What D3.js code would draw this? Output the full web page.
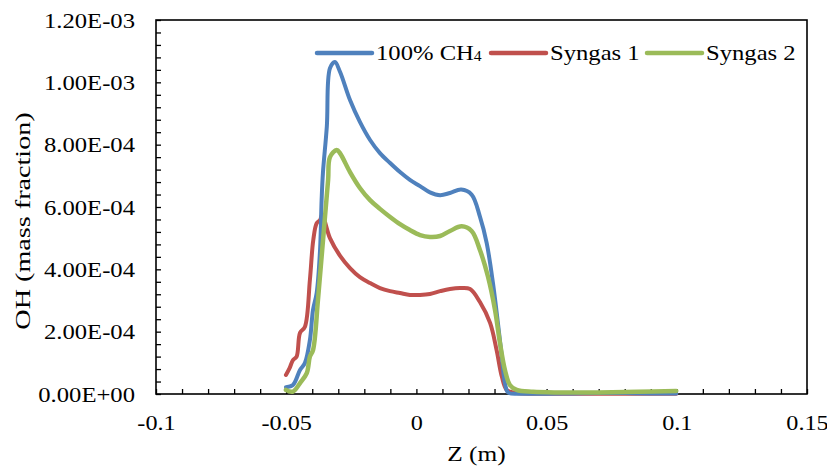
<!DOCTYPE html>
<html>
<head>
<meta charset="utf-8">
<script src="https://cdn.jsdelivr.net/npm/d3@7"></script>
<style>
  body { margin: 0; background: #fff; }
  text { font-family: "Liberation Serif", "Times New Roman", serif; fill: #000; }
</style>
</head>
<body>
<div id="content"></div>
<script>
// values (z in m, OH in 1e-4 mass fraction)
var ch4Z = [-0.0501, -0.0474, -0.0447, -0.0428, -0.0409, -0.0397, -0.0383, -0.0370, -0.0364, -0.0359, -0.0344, -0.0332, -0.0313, -0.0293, -0.0255, -0.0217, -0.0178, -0.0140, -0.0101, -0.0063, -0.0025, 0.0014, 0.0052, 0.0091, 0.0129, 0.0172, 0.0212, 0.0244, 0.0270, 0.0294, 0.0313, 0.0328, 0.0340, 0.0352, 0.0400, 0.0500, 0.0600, 0.0700, 0.0800, 0.0900, 0.0998];
var ch4OH = [0.22, 0.29, 0.77, 1.00, 1.73, 2.70, 3.24, 4.62, 6.22, 7.09, 8.58, 10.45, 10.65, 10.33, 9.43, 8.73, 8.15, 7.73, 7.41, 7.12, 6.87, 6.67, 6.47, 6.38, 6.45, 6.56, 6.40, 5.69, 4.84, 3.56, 2.28, 1.20, 0.35, 0.05, 0.01, 0.01, 0.02, 0.03, 0.03, 0.02, 0.02];

var syn1Z = [-0.0501, -0.0487, -0.0474, -0.0460, -0.0447, -0.0428, -0.0409, -0.0396, -0.0383, -0.0370, -0.0362, -0.0332, -0.0293, -0.0255, -0.0217, -0.0178, -0.0140, -0.0101, -0.0063, -0.0025, 0.0014, 0.0052, 0.0091, 0.0129, 0.0167, 0.0206, 0.0244, 0.0283, 0.0308, 0.0328, 0.0347, 0.0385, 0.0450, 0.0600, 0.0800, 0.0998];
var syn1OH = [0.61, 0.83, 1.09, 1.20, 1.96, 2.16, 3.66, 4.94, 5.48, 5.58, 5.75, 5.00, 4.43, 4.04, 3.75, 3.56, 3.40, 3.30, 3.24, 3.18, 3.18, 3.21, 3.30, 3.37, 3.40, 3.37, 2.95, 2.28, 1.41, 0.56, 0.13, 0.03, 0.01, 0.01, 0.01, 0.01];

var syn2Z = [-0.0501, -0.0474, -0.0447, -0.0421, -0.0409, -0.0397, -0.0378, -0.0364, -0.0351, -0.0339, -0.0332, -0.0306, -0.0293, -0.0255, -0.0217, -0.0178, -0.0140, -0.0101, -0.0063, -0.0025, 0.0014, 0.0052, 0.0091, 0.0129, 0.0174, 0.0212, 0.0244, 0.0275, 0.0302, 0.0321, 0.0340, 0.0359, 0.0385, 0.0448, 0.0550, 0.0700, 0.0850, 0.0998];
var syn2OH = [0.13, 0.08, 0.35, 0.67, 1.20, 1.41, 3.02, 4.40, 5.69, 6.87, 7.60, 7.83, 7.72, 7.12, 6.61, 6.22, 5.94, 5.68, 5.45, 5.26, 5.10, 5.04, 5.07, 5.23, 5.38, 5.23, 4.62, 3.76, 2.69, 1.63, 0.77, 0.29, 0.13, 0.07, 0.05, 0.05, 0.07, 0.10];

var seriesNames = ["100% CH", "Syngas 1", "Syngas 2"];
var seriesColors = ["#4F81BD", "#C0504D", "#9BBB59"];
var xTicks = [-0.1, -0.05, 0, 0.05, 0.1, 0.15];
var xTickLabels = ["-0.1", "-0.05", "0", "0.05", "0.1", "0.15"];
var yTicks = [0, 2e-4, 4e-4, 6e-4, 8e-4, 1e-3, 1.2e-3];
var yTickLabels = ["0.00E+00", "2.00E-04", "4.00E-04", "6.00E-04", "8.00E-04", "1.00E-03", "1.20E-03"];

let width = 827, height = 468
let pLeft = 156, pRight = 807, pTop = 20, pBottom = 394

// the reference type is a bit wider than Liberation Serif at the same height
function stretch(sel, f) {
  sel.each(function() {
    var w = this.getComputedTextLength()
    d3.select(this)
      .attr("textLength", w * f)
      .attr("lengthAdjust", "spacingAndGlyphs")
  })
}

var svg = d3.select("#content")
  .append("svg")
    .attr("width", width)
    .attr("height", height)

var x = d3.scaleLinear().domain([-0.1, 0.15]).range([pLeft, pRight])
var y = d3.scaleLinear().domain([0, 1.2e-3]).range([pBottom, pTop])

// minor ticks, pointing into the plot
svg.append("g")
  .attr("transform", "translate(0," + pBottom + ")")
  .call(d3.axisBottom(x).tickValues(d3.range(-10, 16).map(d => d / 100)).tickSize(-5).tickFormat(""))
  .call(g => g.select(".domain").remove())
  .selectAll("line").attr("stroke", "#000").attr("stroke-width", 1.3)

svg.append("g")
  .attr("transform", "translate(" + pLeft + ",0)")
  .call(d3.axisLeft(y).tickValues(d3.range(0, 31).map(d => d * 4e-5)).tickSize(-5).tickFormat(""))
  .call(g => g.select(".domain").remove())
  .selectAll("line").attr("stroke", "#000").attr("stroke-width", 1.3)

// tick labels
var xAxis = svg.append("g")
  .attr("transform", "translate(0," + pBottom + ")")
  .call(d3.axisBottom(x).tickValues(xTicks).tickSize(0).tickPadding(20)
    .tickFormat((d, i) => xTickLabels[i]))
xAxis.select(".domain").remove()
xAxis.selectAll("text").attr("font-size", 22).attr("font-family", null).call(stretch, 1.1)

var yAxis = svg.append("g")
  .attr("transform", "translate(" + pLeft + ",0)")
  .call(d3.axisLeft(y).tickValues(yTicks).tickSize(0).tickPadding(21)
    .tickFormat((d, i) => yTickLabels[i]))
yAxis.select(".domain").remove()
yAxis.selectAll("text").attr("font-size", 22).attr("font-family", null).call(stretch, 1.12)

// frame
svg.append("rect")
  .attr("x", pLeft)
  .attr("y", pTop)
  .attr("width", pRight - pLeft)
  .attr("height", pBottom - pTop)
  .attr("fill", "none")
  .attr("stroke", "#000")
  .attr("stroke-width", 1.6)

var line = d3.line()
  .x(d => x(d[0]))
  .y(d => y(d[1] * 1e-4))
  .curve(d3.curveCatmullRom.alpha(0.5))

var allSeries = [
  { z: ch4Z, oh: ch4OH, w: 4 },
  { z: syn1Z, oh: syn1OH, w: 4 },
  { z: syn2Z, oh: syn2OH, w: 4.5 }
]

// draw red first, then blue, green on top
var order = [1, 0, 2]
order.forEach(function(i) {
  var s = allSeries[i]
  svg.append("path")
    .datum(s.z.map((z, j) => [z, s.oh[j]]))
    .attr("d", line)
    .attr("fill", "none")
    .attr("stroke", seriesColors[i])
    .attr("stroke-width", s.w)
    .attr("stroke-linejoin", "round")
    .attr("stroke-linecap", "round")
})

// legend
var legendX = [317, 491, 647]
for (var i = 0; i < seriesNames.length; i++) {
  svg.append("line")
    .attr("x1", legendX[i])
    .attr("x2", legendX[i] + 55)
    .attr("y1", 53)
    .attr("y2", 53)
    .attr("stroke", seriesColors[i])
    .attr("stroke-width", 4.5)
    .attr("stroke-linecap", "round")

  var t = svg.append("text")
    .attr("x", legendX[i] + 59)
    .attr("y", 60)
    .attr("font-size", 22)
    .text(seriesNames[i])
  if (i == 0) {
    t.append("tspan")
      .attr("font-size", 14)
      .attr("dy", 1)
      .text("4")
  }
  t.call(stretch, 1.12)
}

// axis titles
svg.append("text")
  .attr("x", (pLeft + pRight) / 2 - 5)
  .attr("y", 461)
  .attr("text-anchor", "middle")
  .attr("font-size", 22)
  .text("Z (m)")
  .call(stretch, 1.15)

svg.append("text")
  .attr("transform", "translate(30," + ((pTop + pBottom) / 2 + 14) + ") rotate(-90)")
  .attr("text-anchor", "middle")
  .attr("font-size", 22)
  .text("OH (mass fraction)")
  .call(stretch, 1.28)
</script>
</body>
</html>
